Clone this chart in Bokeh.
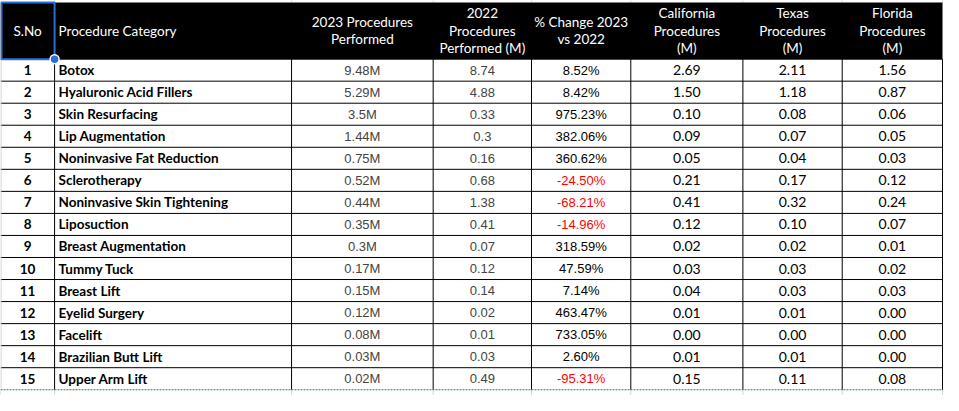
from bokeh.plotting import figure
from bokeh.models import ColumnDataSource, Range1d
from bokeh.core.properties import value
from bokeh.embed import file_html
from bokeh.resources import INLINE

# ---------------- data ----------------
serial = list(range(1, 16))
categories = ["Botox", "Hyaluronic Acid Fillers", "Skin Resurfacing", "Lip Augmentation",
              "Noninvasive Fat Reduction", "Sclerotherapy", "Noninvasive Skin Tightening",
              "Liposuction", "Breast Augmentation", "Tummy Tuck", "Breast Lift",
              "Eyelid Surgery", "Facelift", "Brazilian Butt Lift", "Upper Arm Lift"]
proc_2023 = [9.48, 5.29, 3.5, 1.44, 0.75, 0.52, 0.44, 0.35, 0.3, 0.17, 0.15, 0.12, 0.08, 0.03, 0.02]
proc_2022 = [8.74, 4.88, 0.33, 0.3, 0.16, 0.68, 1.38, 0.41, 0.07, 0.12, 0.14, 0.02, 0.01, 0.03, 0.49]
pct_change = [8.52, 8.42, 975.23, 382.06, 360.62, -24.50, -68.21, -14.96, 318.59, 47.59,
              7.14, 463.47, 733.05, 2.60, -95.31]
california = [2.69, 1.50, 0.10, 0.09, 0.05, 0.21, 0.41, 0.12, 0.02, 0.03, 0.04, 0.01, 0.00, 0.01, 0.15]
texas = [2.11, 1.18, 0.08, 0.07, 0.04, 0.17, 0.32, 0.10, 0.02, 0.03, 0.03, 0.01, 0.00, 0.01, 0.11]
florida = [1.56, 0.87, 0.06, 0.05, 0.03, 0.12, 0.24, 0.07, 0.01, 0.02, 0.03, 0.00, 0.00, 0.00, 0.08]
headers = [["S.No"], ["Procedure Category"], ["2023 Procedures", "Performed"],
           ["2022", "Procedures", "Performed (M)"], ["% Change 2023", "vs 2022"],
           ["California", "Procedures", "(M)"], ["Texas", "Procedures", "(M)"],
           ["Florida", "Procedures", "(M)"]]

# ---------------- layout ----------------
W, H = 959, 411
col_edges = [0, 55, 296, 440, 540, 641, 755, 856, 958]
header_top, header_bottom, table_bottom = 2, 61, 405
n_rows = len(categories)
row_h = (table_bottom - header_bottom) / n_rows
header_line_gap = 18
cat_pad = 4

p = figure(width=943, height=395, output_backend="svg", toolbar_location=None,
           x_range=Range1d(0, W), y_range=Range1d(H, 0),
           min_border=0, outline_line_color=None, background_fill_color="white",
           border_fill_color="white")
p.axis.visible = False
p.grid.visible = False

# faint spreadsheet gridlines above header and below table
p.segment(x0=col_edges, y0=[0] * len(col_edges), x1=col_edges, y1=[header_top] * len(col_edges),
          line_color="#d4d4d4", line_width=1)
p.segment(x0=col_edges, y0=[table_bottom] * len(col_edges), x1=col_edges, y1=[H] * len(col_edges),
          line_color="#d4d4d4", line_width=1)

# header background
p.quad(left=[col_edges[0]], right=[col_edges[-1]], top=[header_top], bottom=[header_bottom],
       fill_color="black", line_color=None)

# body horizontal lines
row_edges = [header_bottom + i * row_h for i in range(n_rows + 1)]
p.segment(x0=[col_edges[0]] * len(row_edges[:-1]), y0=row_edges[:-1],
          x1=[col_edges[-1]] * len(row_edges[:-1]), y1=row_edges[:-1],
          line_color="black", line_width=1)
# body vertical lines
p.segment(x0=col_edges[1:], y0=[header_bottom] * len(col_edges[1:]),
          x1=col_edges[1:], y1=[table_bottom] * len(col_edges[1:]),
          line_color="black", line_width=1)
p.segment(x0=[0.5], y0=[header_bottom], x1=[0.5], y1=[table_bottom], line_color="#c8c8c8", line_width=1)
# copy marquee at the bottom
p.segment(x0=[col_edges[0]], y0=[table_bottom], x1=[col_edges[-1]], y1=[table_bottom],
          line_color="#2f7d4f", line_width=1.2, line_dash="2 1")

# header texts
hx, hy, ht, ha = [], [], [], []
hc = (header_top + header_bottom) / 2
for ci, lines in enumerate(headers):
    n = len(lines)
    for li, t in enumerate(lines):
        if ci == 1:
            hx.append(col_edges[1] + cat_pad)
            ha.append("left")
        else:
            hx.append((col_edges[ci] + col_edges[ci + 1]) / 2)
            ha.append("center")
        hy.append(hc + (li - (n - 1) / 2) * header_line_gap)
        ht.append(t)
p.text(x="x", y="y", text="t", text_align="a", source=ColumnDataSource(dict(x=hx, y=hy, t=ht, a=ha)),
       text_baseline="middle", text_color="white", text_font=value("Lato"), text_font_size="13.5px")

# selection border on S.No header cell
p.quad(left=[col_edges[0] + 1], right=[col_edges[1]], top=[header_top], bottom=[header_bottom],
       fill_color=None, line_color="#2a6fdb", line_width=2)
p.scatter(x=[col_edges[1]], y=[header_bottom], size=9, marker="circle",
          fill_color="#2a6fdb", line_color="white", line_width=1.5)

# body texts
row_y = [header_bottom + (i + 0.5) * row_h for i in range(n_rows)]

def centers(ci):
    return [(col_edges[ci] + col_edges[ci + 1]) / 2] * n_rows

p.text(x=centers(0), y=row_y, text=[str(s) for s in serial], text_align="center",
       text_baseline="middle", text_color="black", text_font=value("Lato"),
       text_font_style="bold", text_font_size="13.5px")
p.text(x=[col_edges[1] + cat_pad] * n_rows, y=row_y, text=categories, text_align="left",
       text_baseline="middle", text_color="black", text_font=value("Lato"),
       text_font_style="bold", text_font_size="13.5px")
p.text(x=centers(2), y=row_y, text=[f"{v:g}M" for v in proc_2023], text_align="center",
       text_baseline="middle", text_color="#444444", text_font=value("Liberation Sans"),
       text_font_size="13px")
p.text(x=centers(3), y=row_y, text=[f"{v:g}" for v in proc_2022], text_align="center",
       text_baseline="middle", text_color="#444444", text_font=value("Liberation Sans"),
       text_font_size="13px")
p.text(x=centers(4), y=row_y, text=[f"{v:.2f}%" for v in pct_change], text_align="center",
       text_baseline="middle", text_color=["#ff0000" if v < 0 else "#000000" for v in pct_change],
       text_font=value("Liberation Sans"), text_font_size="13px")
for ci, vals in zip([5, 6, 7], [california, texas, florida]):
    p.text(x=centers(ci), y=row_y, text=[f"{v:.2f}" for v in vals], text_align="center",
           text_baseline="middle", text_color="#000000", text_font=value("Lato"),
           text_font_size="14px")

open("out.html", "w").write(file_html(p, INLINE))
